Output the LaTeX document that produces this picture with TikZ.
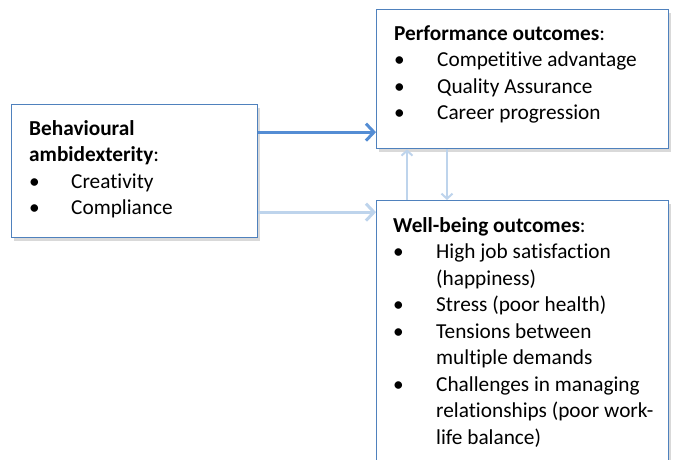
\documentclass[tikz,border=0pt]{standalone}
\usepackage{fontspec}
\setmainfont{Carlito}[Ligatures=NoCommon]
\usetikzlibrary{arrows.meta, shadows, positioning}
\definecolor{boxblue}{RGB}{79,129,189}
\definecolor{arrowblue}{RGB}{84,141,212}
\definecolor{paleblue}{RGB}{190,212,236}
\newcommand{\bfont}{\fontsize{21.3}{26.5}\selectfont}
\newcommand{\itm}{\textbullet &}
\tikzset{
  outbox/.style={draw=boxblue, line width=1.3pt, fill=white, rectangle, inner sep=0pt,
    anchor=north west, drop shadow={shadow xshift=2pt, shadow yshift=-3pt, opacity=.3}},
  boxtext/.style={anchor=north west, inner sep=0pt, font=\bfont},
  strong/.style={draw=arrowblue, line width=3pt, -{Straight Barb[length=8pt,width=17pt]}},
  pale/.style={draw=paleblue, line width=3pt, -{Straight Barb[length=8pt,width=17pt]}},
  link/.style={draw=paleblue, line width=2pt, -{Straight Barb[length=5pt,width=11pt]}}
}

\begin{document}
\begin{tikzpicture}[x=1pt, y=-1pt]
\useasboundingbox (0,0) rectangle (673,459);
\clip (0,0) rectangle (673,459);

%Khung hanh vi
\node[outbox, minimum width=246pt, minimum height=133pt] (behav) at (11,104) {};
\node[boxtext] (behavtxt) at ([xshift=18pt,yshift=-12.5pt]behav.north west) {%
  \begin{tabular}{@{}p{42pt}@{}l@{}}
  \multicolumn{2}{@{}l@{}}{\textbf{Behavioural}}\\
  \multicolumn{2}{@{}l@{}}{\textbf{ambidexterity}:}\\
  \itm Creativity\\
  \itm Compliance
  \end{tabular}};

%Khung ket qua cong viec
\node[outbox, minimum width=292pt, minimum height=139pt] (perf) at (376,9) {};
\node[boxtext] (perftxt) at ([xshift=18pt,yshift=-12.5pt]perf.north west) {%
  \begin{tabular}{@{}p{43pt}@{}l@{}}
  \multicolumn{2}{@{}l@{}}{\textbf{Performance outcomes}:}\\
  \itm Competitive advantage\\
  \itm Quality Assurance\\
  \itm Career progression
  \end{tabular}};

%Khung suc khoe
\node[outbox, minimum width=292pt, minimum height=280pt] (well) at (376,200) {};
\node[boxtext] (welltxt) at ([xshift=17pt,yshift=-13.5pt]well.north west) {%
  \begin{tabular}{@{}p{43pt}@{}l@{}}
  \multicolumn{2}{@{}l@{}}{\textbf{Well-being outcomes}:}\\
  \itm High job satisfaction\\
       & (happiness)\\
  \itm Stress (poor health)\\
  \itm Tensions between\\
       & multiple demands\\
  \itm Challenges in managing\\
       & relationships (poor work-\\
       & life balance)
  \end{tabular}};

%Mui ten
\draw[strong] ([yshift=39pt]behav.east) -- ([yshift=39pt]behav.east -| perf.west);
\draw[pale] ([yshift=-41pt]behav.east) -- ([yshift=-41pt]behav.east -| well.west);
\draw[link] ([xshift=31pt]well.north west) -- ([xshift=31pt]well.north west |- perf.south);
\draw[link] ([xshift=71pt]perf.south west) -- ([xshift=71pt]perf.south west |- well.north);
\end{tikzpicture}
\end{document}
